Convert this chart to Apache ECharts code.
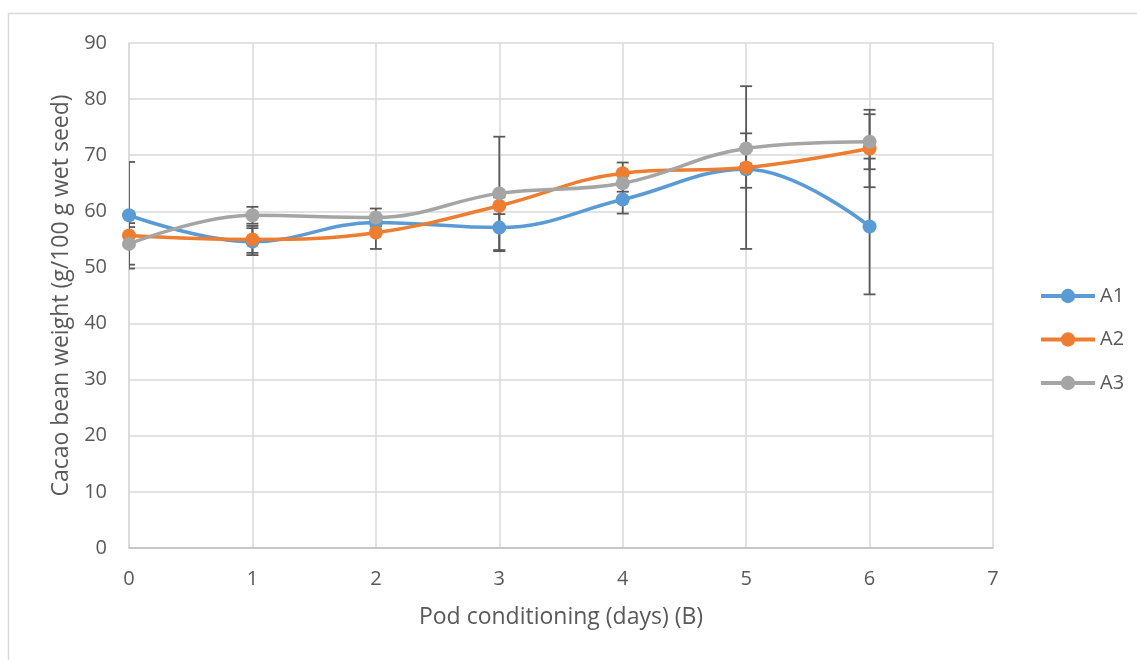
<!DOCTYPE html>
<html>
<head>
<meta charset="utf-8">
<script src="https://cdn.jsdelivr.net/npm/echarts@6/dist/echarts.min.js"></script>
<style>
  html, body { margin: 0; padding: 0; background: #fff; }
  #main { width: 1137px; height: 660px; }
</style>
</head>
<body>
<div id="main"></div>
<script>
// days of pod conditioning
var days = [0, 1, 2, 3, 4, 5, 6];

// mean bean weight per treatment
var a1 = [59.3, 54.6, 58.0, 57.1, 62.1, 67.5, 57.3];
var a2 = [55.7, 55.0, 56.2, 61.0, 66.8, 67.8, 71.2];
var a3 = [54.2, 59.3, 58.9, 63.2, 65.0, 71.2, 72.4];

// error (+/-)
var a1Err = [9.5, 2.4, 1.2, 4.2, 2.5, 3.3, 12.1];
var a2Err = [1.5, 2.4, 2.9, 1.5, 1.9, 14.5, 6.9];
var a3Err = [3.7, 1.5, 1.6, 10.1, 1.5, 2.7, 4.9];

var names = ['A1', 'A2', 'A3'];
var colors = ['#5b9bd5', '#ed7d31', '#a5a5a5'];

var chart = echarts.init(document.getElementById('main'));

function pairs(vals) {
  return days.map(function (d, i) { return [d, vals[i]]; });
}

function errData(vals, errs) {
  return days.map(function (d, i) { return [d, vals[i] - errs[i], vals[i] + errs[i]]; });
}

// error bar renderer
function renderErr(params, api) {
  var x = api.value(0);
  var lo = api.coord([x, api.value(1)]);
  var hi = api.coord([x, api.value(2)]);
  var cap = 6;
  var st = { stroke: '#595959', lineWidth: 1.8 };
  return {
    type: 'group',
    children: [
      { type: 'line', shape: { x1: lo[0], y1: lo[1], x2: hi[0], y2: hi[1] }, style: st },
      { type: 'line', shape: { x1: hi[0] - cap, y1: hi[1], x2: hi[0] + cap, y2: hi[1] }, style: st },
      { type: 'line', shape: { x1: lo[0] - cap, y1: lo[1], x2: lo[0] + cap, y2: lo[1] }, style: st }
    ]
  };
}

var means = [a1, a2, a3];
var errs = [a1Err, a2Err, a3Err];
var series = [];

for (var k = 0; k < 3; k++) {
  series.push({
    type: 'custom',
    name: names[k] + ' err',
    renderItem: renderErr,
    data: errData(means[k], errs[k]),
    encode: { x: 0, y: [1, 2] },
    clip: true,
    z: 1,
    silent: true
  });
}
for (var k = 0; k < 3; k++) {
  series.push({
    type: 'line',
    name: names[k],
    data: pairs(means[k]),
    smooth: 0.4,
    symbol: 'circle',
    symbolSize: 14,
    color: colors[k],
    lineStyle: { width: 3.5, color: colors[k] },
    itemStyle: { color: colors[k] },
    z: 3
  });
}

var option = {
  backgroundColor: '#ffffff',
  animation: false,
  textStyle: { fontFamily: 'Open Sans' },
  graphic: [{
    type: 'rect',
    shape: { x: 8.5, y: 13.5, width: 1140, height: 660 },
    style: { fill: 'none', stroke: '#d9d9d9', lineWidth: 1.5 },
    silent: true
  }],
  grid: { left: 129, right: 144, top: 43, bottom: 112, containLabel: false },
  legend: {
    orient: 'vertical',
    left: 1034,
    top: 281,
    itemGap: 23.5,
    itemWidth: 54,
    itemHeight: 18,
    data: names,
    lineStyle: { width: 4 },
    textStyle: { color: '#595959', fontSize: 20, lineHeight: 20, fontFamily: 'Open Sans' }
  },
  xAxis: {
    type: 'value',
    min: 0,
    max: 7,
    interval: 1,
    name: 'Pod conditioning (days) (B)',
    nameLocation: 'middle',
    nameGap: 58,
    nameTextStyle: { color: '#595959', fontSize: 23 },
    axisLine: { show: true, onZero: false, lineStyle: { color: '#bfbfbf', width: 1.5 } },
    axisTick: { show: false },
    axisLabel: { color: '#595959', fontSize: 20, margin: 21 },
    splitLine: { show: true, lineStyle: { color: '#d9d9d9', width: 1.5 } }
  },
  yAxis: {
    type: 'value',
    min: 0,
    max: 90,
    interval: 10,
    name: 'Cacao bean weight (g/100 g wet seed)',
    nameLocation: 'middle',
    nameGap: 55,
    nameTextStyle: { color: '#595959', fontSize: 23 },
    axisLine: { show: true, lineStyle: { color: '#d9d9d9', width: 1.5 } },
    axisTick: { show: false },
    axisLabel: { color: '#595959', fontSize: 20, margin: 22 },
    splitLine: { show: true, lineStyle: { color: '#d9d9d9', width: 1.5 } }
  },
  series: series
};

chart.setOption(option);
</script>
</body>
</html>
